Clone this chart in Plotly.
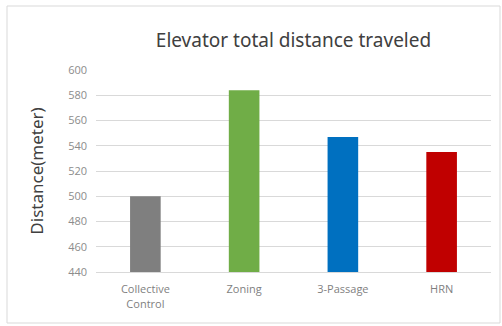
import plotly.graph_objects as go

categories = ["Collective<br>Control", "Zoning", "3-Passage", "HRN"]
values = [500, 584, 547, 535]
colors = ["#7f7f7f", "#70ad47", "#0070c0", "#c00000"]
y_ticks = [440, 460, 480, 500, 520, 540, 560, 580, 600]

W, H = 502, 326
ml, mr, mt, mb = 96, 11, 70, 54
pw, ph = W - ml - mr, H - mt - mb

fig = go.Figure(go.Bar(x=categories, y=values, marker=dict(color=colors, line=dict(width=0)), width=0.31))

fig.update_layout(
    width=W, height=H,
    margin=dict(l=ml, r=mr, t=mt, b=mb),
    paper_bgcolor="white", plot_bgcolor="white",
    font=dict(family="Open Sans, Noto Sans, sans-serif", color="#7f7f7f"),
    title=dict(text="Elevator total distance traveled", x=(ml + pw / 2) / W, xanchor="center",
               y=1 - 40 / H, yanchor="middle",
               font=dict(size=19, color="#404040", family="Noto Sans, sans-serif")),
    showlegend=False,
    bargap=0.69,
)
fig.update_yaxes(range=[440, 600], tickvals=y_ticks, showgrid=True, gridcolor="#d9d9d9", gridwidth=1,
                 zeroline=False, showline=False, ticks="", tickfont=dict(size=11, color="#8c8c8c"),
                 ticklabelstandoff=8,
                 title=dict(text="Distance(meter)", font=dict(size=17, color="#404040", family="Noto Sans, sans-serif"), standoff=20))
fig.update_xaxes(showline=True, linecolor="#d9d9d9", linewidth=1, ticks="",
                 ticklabelstandoff=7,
                 tickfont=dict(size=11, color="#7f7f7f"))

fig.add_shape(type="rect", xref="paper", yref="paper",
              x0=(7 - ml) / pw, x1=(500 - ml) / pw,
              y0=(H - mb - 323) / ph, y1=(H - mb - 6) / ph,
              line=dict(color="#d9d9d9", width=1), fillcolor="rgba(0,0,0,0)", layer="below")

fig.write_html("out.html")
